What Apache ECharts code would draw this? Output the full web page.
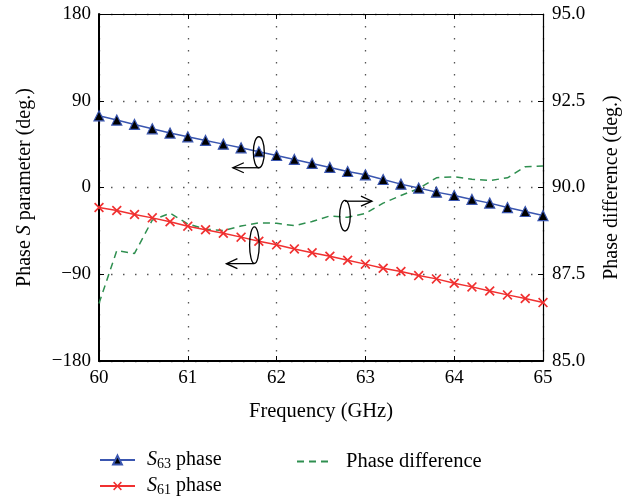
<!DOCTYPE html>
<html>
<head>
<meta charset="utf-8">
<script src="https://cdn.jsdelivr.net/npm/echarts@6/dist/echarts.min.js"></script>
<style>
  html, body { margin: 0; padding: 0; background: #fff; }
  #chart { width: 634px; height: 498px; }
</style>
</head>
<body>
<div id="chart"></div>
<script>
// Frequency sweep (GHz)
const freq = [60, 60.2, 60.4, 60.6, 60.8, 61, 61.2, 61.4, 61.6, 61.8, 62, 62.2, 62.4,
              62.6, 62.8, 63, 63.2, 63.4, 63.6, 63.8, 64, 64.2, 64.4, 64.6, 64.8, 65];
// Phase of S63 (deg.)
const s63Phase = [74.4, 70.0, 65.4, 60.9, 56.5, 52.6, 48.8, 45.0, 41.2, 37.1, 33.2, 29.1, 25.0,
                  20.8, 16.6, 13.2, 8.3, 3.5, -0.6, -4.8, -8.3, -12.4, -16.2, -20.8, -24.9, -29.1];
// Phase of S61 (deg.)
const s61Phase = [-20.8, -23.9, -28.0, -31.5, -35.6, -40.1, -43.9, -47.4, -51.5, -55.7, -59.5, -63.7, -67.7,
                  -71.3, -75.4, -79.5, -83.7, -87.2, -91.4, -94.8, -99.3, -103.1, -107.3, -111.4, -115.2, -119.4];
// Phase difference between the two outputs (deg.)
const phaseDiff = [86.66, 88.18, 88.10, 89.06, 89.26, 88.95, 88.80, 88.76, 88.89, 88.98, 88.97, 88.90, 89.02,
                   89.18, 89.14, 89.25, 89.55, 89.77, 89.97, 90.28, 90.31, 90.24, 90.20, 90.28, 90.60, 90.62];

const xTicks = [60, 61, 62, 63, 64, 65];
const leftTicks = [-180, -90, 0, 90, 180];
const rightTicks = [85.0, 87.5, 90.0, 92.5, 95.0];

const FONT = '"Liberation Serif", "DejaVu Serif", serif';
const pairs = ys => freq.map((f, i) => [f, ys[i]]);
const minus = v => String(v).replace('-', '\u2212');

const crossPath = 'path://M0,1.2L1.2,0L5,3.8L8.8,0L10,1.2L6.2,5L10,8.8L8.8,10L5,6.2L1.2,10L0,8.8L3.8,5Z';

const chart = echarts.init(document.getElementById('chart'), null, { renderer: 'canvas' });

const legendRich = {
  i: { fontFamily: FONT, fontSize: 20, fontStyle: 'italic', color: '#000', padding: [0, 0, 0, 7] },
  sub: { fontFamily: FONT, fontSize: 14, color: '#000', padding: [9, 0, 0, 0] },
  n: { fontFamily: FONT, fontSize: 20, color: '#000' },
  p: { fontFamily: FONT, fontSize: 20.5, color: '#000', padding: [0, 0, 0, 9] }
};
const legendFormatter = name => {
  if (name === 'S63 phase') return '{i|S}{sub|63}{n| phase}';
  if (name === 'S61 phase') return '{i|S}{sub|61}{n| phase}';
  return '{p|' + name + '}';
};
function legendEntry(name, left, top, extra) {
  return Object.assign({
    data: [name], left: left, top: top,
    itemWidth: 35, itemHeight: 11, padding: 0,
    formatter: legendFormatter,
    textStyle: { rich: legendRich }
  }, extra || {});
}

chart.setOption({
  animation: false,
  backgroundColor: '#fff',
  textStyle: { fontFamily: FONT },
  grid: { left: 99, right: 91, top: 14, bottom: 137 },
  legend: [
    legendEntry('S63 phase', 99, 450),
    legendEntry('S61 phase', 99, 476),
    legendEntry('Phase difference', 296, 451, { itemStyle: { opacity: 0 } })
  ],
  xAxis: [
    {
      type: 'value', min: xTicks[0], max: xTicks[xTicks.length - 1], interval: 1,
      name: 'Frequency (GHz)', nameLocation: 'middle', nameGap: 40,
      nameTextStyle: { fontFamily: FONT, fontSize: 20.5, color: '#000' },
      axisLine: { show: true, onZero: false, lineStyle: { color: '#000', width: 2 } },
      axisTick: { show: true, inside: true, length: 5, lineStyle: { color: '#000' } },
      axisLabel: { fontFamily: FONT, fontSize: 19, color: '#000', margin: 8 },
      splitLine: { show: true, lineStyle: { color: '#555', type: [1.5, 10.5], width: 1.3 } }
    },
    {
      type: 'value', position: 'top', min: xTicks[0], max: xTicks[xTicks.length - 1], interval: 1,
      axisLine: { show: true, onZero: false, lineStyle: { color: '#000', width: 1.2 } },
      axisTick: { show: true, inside: true, length: 5, lineStyle: { color: '#000' } },
      axisLabel: { show: false },
      splitLine: { show: false }
    }
  ],
  yAxis: [
    {
      type: 'value', position: 'left',
      min: leftTicks[0], max: leftTicks[leftTicks.length - 1], interval: 90,
      name: '{n|Phase }{i|S}{n| parameter (deg.)}',
      nameLocation: 'middle', nameGap: 64,
      nameTextStyle: {
        rich: {
          n: { fontFamily: FONT, fontSize: 20, color: '#000' },
          i: { fontFamily: FONT, fontSize: 20, fontStyle: 'italic', color: '#000' }
        }
      },
      axisLine: { show: true, onZero: false, lineStyle: { color: '#000', width: 2 } },
      axisTick: { show: true, inside: true, length: 5, lineStyle: { color: '#000' } },
      axisLabel: { fontFamily: FONT, fontSize: 19, color: '#000', margin: 8, formatter: v => minus(v) },
      splitLine: { show: true, lineStyle: { color: '#555', type: [1.5, 10.5], width: 1.3 } }
    },
    {
      type: 'value', position: 'right',
      min: rightTicks[0], max: rightTicks[rightTicks.length - 1], interval: 2.5,
      name: 'Phase difference (deg.)',
      nameLocation: 'middle', nameGap: 59,
      nameTextStyle: { fontFamily: FONT, fontSize: 20, color: '#000' },
      axisLine: { show: true, onZero: false, lineStyle: { color: '#000', width: 1.2 } },
      axisTick: { show: true, inside: true, length: 5, lineStyle: { color: '#000' } },
      axisLabel: { fontFamily: FONT, fontSize: 19, color: '#000', margin: 9, formatter: v => v.toFixed(1) },
      splitLine: { show: false }
    }
  ],
  series: [
    {
      name: 'S63 phase', type: 'line', xAxisIndex: 0, yAxisIndex: 0,
      data: pairs(s63Phase),
      symbol: 'triangle', symbolSize: 10,
      lineStyle: { color: '#3a56b0', width: 1.5 },
      itemStyle: { color: '#000', borderColor: '#3a56b0', borderWidth: 1.2 },
      z: 3
    },
    {
      name: 'S61 phase', type: 'line', xAxisIndex: 0, yAxisIndex: 0,
      data: pairs(s61Phase),
      symbol: crossPath, symbolSize: 10,
      lineStyle: { color: '#f03030', width: 1.5 },
      itemStyle: { color: '#f03030' },
      z: 3
    },
    {
      name: 'Phase difference', type: 'line', xAxisIndex: 0, yAxisIndex: 1,
      data: pairs(phaseDiff),
      showSymbol: false, symbol: 'none',
      lineStyle: { color: '#2f8f50', width: 1.5, type: [7, 5] },
      itemStyle: { color: '#2f8f50' },
      z: 2
    }
  ]
});

// Curve-identification marks: an ellipse round each curve with an arrow to its axis
function px(x, y, yAxisIndex) {
  return chart.convertToPixel({ xAxisIndex: 0, yAxisIndex: yAxisIndex }, [x, y]);
}
const stroke = { stroke: '#000', lineWidth: 1.3, fill: null };
function callout(anchor, rx, ry, dy, arrowY, arrowLen) {
  const cx = anchor[0], cy = anchor[1] + dy;
  const ay = cy + arrowY;
  const tipX = cx + arrowLen;
  const dir = arrowLen < 0 ? 1 : -1;
  return [
    { type: 'ellipse', shape: { cx: cx, cy: cy, rx: rx, ry: ry }, style: stroke, z: 10 },
    { type: 'polyline', shape: { points: [[cx, ay], [tipX, ay]] }, style: stroke, z: 10 },
    { type: 'polyline', shape: { points: [[tipX + dir * 11, ay - 5], [tipX, ay], [tipX + dir * 11, ay + 5]] }, style: stroke, z: 10 }
  ];
}
const a1 = px(61.8, 37.1, 0);
const a2 = px(61.75, -54.6, 0);
const a3 = px(62.77, 89.15, 1);
chart.setOption({
  graphic: [].concat(
    callout(a1, 5.5, 15.5, 0.5, 15.5, -26),
    callout(a2, 4.8, 18.3, 5, 18.5, -28),
    callout(a3, 5.3, 15.3, -1.3, -14.5, 27)
  )
});
</script>
</body>
</html>
